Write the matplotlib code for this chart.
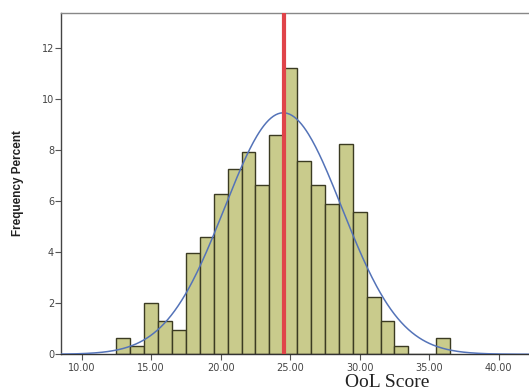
import numpy as np
import matplotlib
matplotlib.use('Agg')
import matplotlib.pyplot as plt

# histogram bins (left edges, width 1) and percent heights
bin_left = [12.5, 13.5, 14.5, 15.5, 16.5, 17.5, 18.5, 19.5, 20.5, 21.5, 22.5, 23.5,
            24.5, 25.5, 26.5, 27.5, 28.5, 29.5, 30.5, 31.5, 32.5, 33.5, 34.5, 35.5]
percent = [0.65, 0.32, 1.99, 1.30, 0.96, 3.95, 4.59, 6.27, 7.25, 7.92, 6.62, 8.57,
           11.21, 7.58, 6.62, 5.90, 8.23, 5.57, 2.26, 1.29, 0.32, 0.0, 0.0, 0.63]

# fitted normal curve parameters and mean marker
mean_score = 24.5
sd_score = 4.22
mean_line = 24.57

x_ticks = [10, 15, 20, 25, 30, 35, 40]
y_ticks = [0, 2, 4, 6, 8, 10, 12]

fig = plt.figure(figsize=(5.29, 3.92), dpi=100)
ax = fig.add_axes([0.1153, 0.0962, 0.8847, 0.8706])

ax.bar(bin_left, percent, width=1.0, align='edge', color='#c9cb8c',
       edgecolor='#3b3b22', linewidth=1.0, zorder=2)

xs = np.linspace(8.5, 42.2, 400)
curve = 100.0 / (sd_score * np.sqrt(2 * np.pi)) * np.exp(-(xs - mean_score) ** 2 / (2 * sd_score ** 2))
ax.plot(xs, curve, color='#5473b8', linewidth=1.1, zorder=3)

ax.axvline(mean_line, color='#e0444a', linewidth=3.0, zorder=4)

ax.set_xlim(8.51, 42.18)
ax.set_ylim(0, 13.36)

ax.set_xticks(x_ticks)
ax.set_xticklabels(['{:.2f}'.format(v) for v in x_ticks])
ax.set_yticks(y_ticks)
ax.tick_params(axis='both', direction='out', length=4, width=0.8, colors='#555555',
               labelsize=7, labelcolor='#444444')
ax.tick_params(axis='x', pad=2)
ax.tick_params(axis='y', pad=1)

ax.spines['right'].set_visible(False)
ax.spines['top'].set_color('#888888')
ax.spines['top'].set_linestyle((0, (1, 1)))
ax.spines['top'].set_linewidth(1.0)
ax.spines['left'].set_color('#444444')
ax.spines['bottom'].set_color('#333333')
ax.spines['left'].set_linewidth(1.0)
ax.spines['bottom'].set_linewidth(1.0)

fig.text(0.034, 0.533, 'Frequency Percent', rotation=90, ha='center', va='center',
         fontsize=8.5, fontweight='bold', family='Liberation Sans', color='#222222')
fig.text(0.732, 0.023, 'OoL Score', ha='center', va='center',
         fontsize=14, family='Liberation Serif', color='#222222')

plt.savefig('out.png', dpi=100)
